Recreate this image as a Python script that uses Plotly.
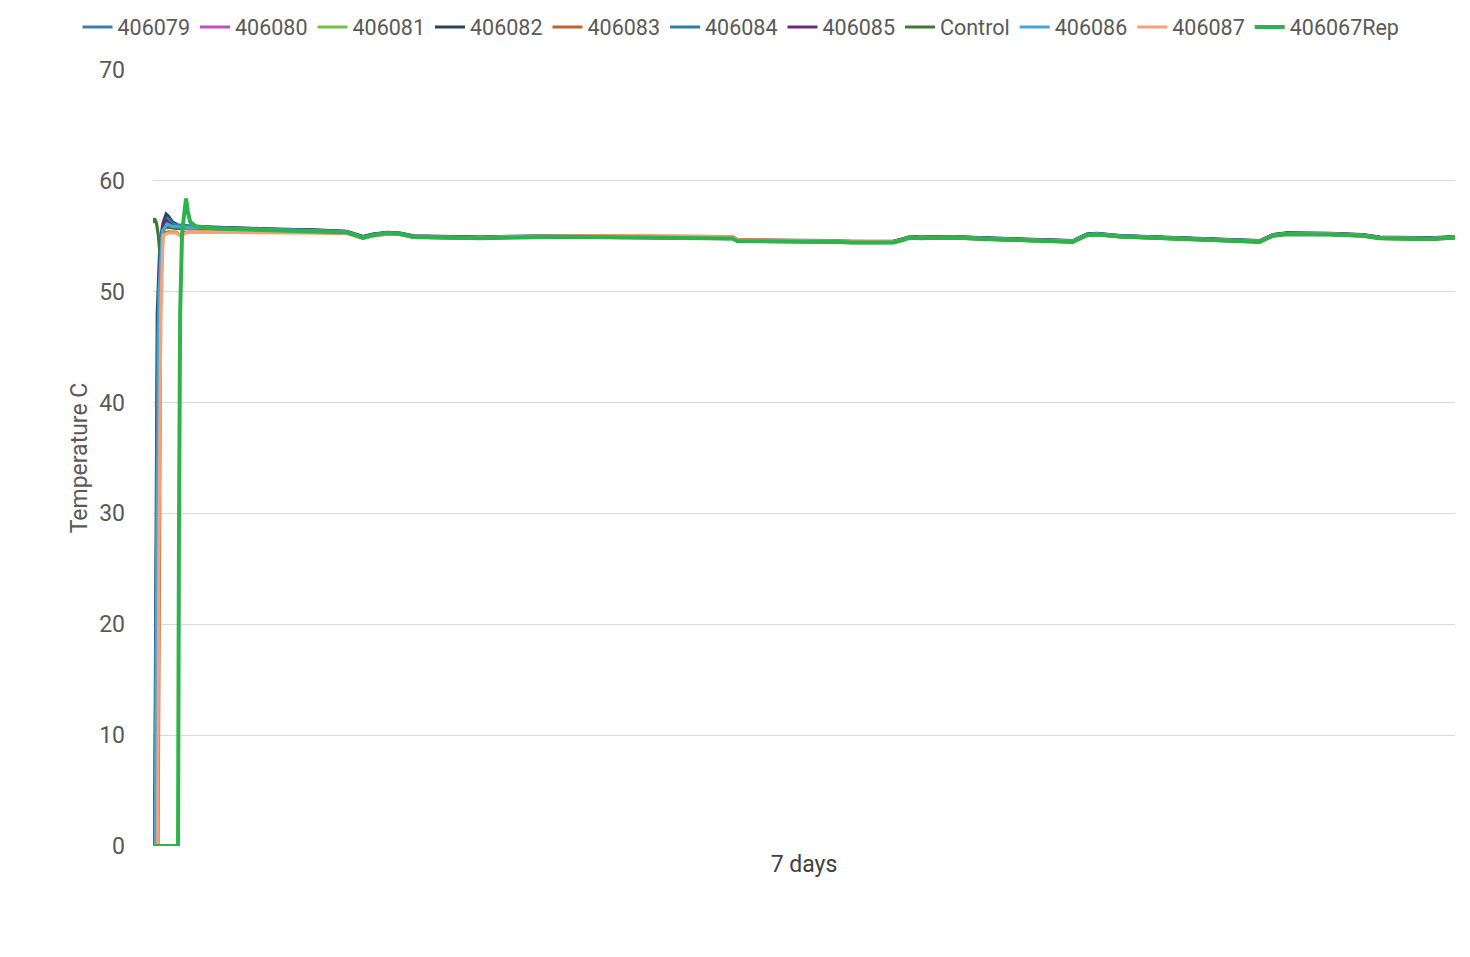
import plotly.graph_objects as go

# ---- data (hours from start, temperature in C) ----
PLATEAU_HOURS = [7.7, 12.1, 16.4, 20.7, 25.0, 27.1, 28.4, 30.2, 31.9, 33.6, 37.9, 42.2, 46.1, 53.4,
                 61.9, 70.6, 74.8, 75.4, 79.2, 83.5, 87.4, 90.3, 95.5, 96.4, 97.7, 99.0, 103.2, 107.6,
                 111.9, 116.1, 118.7, 120.5, 121.8, 124.8, 128.7, 130.3, 134.7, 139.0, 142.8, 144.5,
                 146.3, 151.9, 156.1, 158.3, 164.8, 168.0]

SERIES_NAMES = ["406079", "406080", "406081", "406082", "406083", "406084", "406085",
                "Control", "406086", "406087", "406067Rep"]

s406079_start_h = [0.26, 0.4, 0.6, 0.9, 1.3, 1.8, 2.2, 2.8, 3.5, 4.8]
s406079_start_v = [0, 20, 45, 53.5, 55.8, 56.7, 56.3, 56.0, 55.9, 55.85]
s406079_plateau = [55.80, 55.70, 55.60, 55.55, 55.42, 54.95, 55.18, 55.33, 55.27, 55.02, 54.95, 54.90,
                   54.97, 55.03, 54.98, 54.90, 54.88, 54.66, 54.65, 54.58, 54.57, 54.52, 54.53, 54.68,
                   54.95, 54.90, 54.96, 54.83, 54.74, 54.68, 54.58, 55.18, 55.25, 55.05, 54.96, 54.90,
                   54.80, 54.72, 54.58, 55.13, 55.28, 55.25, 55.13, 54.90, 54.83, 54.95]

s406080_start_h = [0.3, 0.5, 0.8, 1.2, 1.6, 2.0, 2.6, 3.4, 4.8]
s406080_start_v = [0, 30, 50, 55.2, 56.2, 56.3, 55.9, 55.8, 55.8]
s406080_plateau = [55.74, 55.64, 55.55, 55.50, 55.37, 54.90, 55.12, 55.29, 55.22, 54.97, 54.90, 54.85,
                   54.92, 54.98, 54.93, 54.86, 54.83, 54.62, 54.60, 54.53, 54.53, 54.48, 54.48, 54.63,
                   54.90, 54.85, 54.91, 54.78, 54.69, 54.63, 54.53, 55.12, 55.20, 55.00, 54.91, 54.85,
                   54.75, 54.67, 54.53, 55.08, 55.23, 55.20, 55.08, 54.85, 54.78, 54.90]

s406081_start_h = [0.35, 0.55, 0.85, 1.2, 1.7, 2.3, 3.0, 4.8]
s406081_start_v = [0, 32, 51, 55.3, 56.0, 55.9, 55.8, 55.8]
s406081_plateau = [55.70, 55.60, 55.52, 55.46, 55.33, 54.86, 55.09, 55.25, 55.19, 54.93, 54.87, 54.81,
                   54.89, 54.94, 54.89, 54.81, 54.79, 54.57, 54.56, 54.49, 54.49, 54.44, 54.44, 54.59,
                   54.87, 54.81, 54.87, 54.74, 54.65, 54.59, 54.49, 55.09, 55.16, 54.96, 54.87, 54.81,
                   54.71, 54.63, 54.49, 55.04, 55.19, 55.16, 55.04, 54.81, 54.74, 54.87]

s406082_start_h = [0.2, 0.35, 0.55, 0.9, 1.3, 1.7, 2.0, 2.5, 3.2, 4.8]
s406082_start_v = [0, 25, 48, 54.5, 56.2, 57.0, 56.8, 56.3, 56.0, 55.9]
s406082_plateau = [55.82, 55.72, 55.63, 55.57, 55.45, 54.97, 55.20, 55.36, 55.29, 55.05, 54.98, 54.92,
                   55.00, 55.05, 55.00, 54.92, 54.90, 54.68, 54.67, 54.60, 54.60, 54.55, 54.55, 54.70,
                   54.98, 54.92, 54.98, 54.85, 54.76, 54.70, 54.60, 55.20, 55.27, 55.07, 54.98, 54.92,
                   54.82, 54.74, 54.60, 55.15, 55.30, 55.27, 55.15, 54.92, 54.85, 54.97]

s406083_start_h = [0.65, 0.8, 1.0, 1.3, 2.0, 3.0, 3.5, 4.0, 4.8]
s406083_start_v = [0, 30, 50, 55.3, 55.4, 55.35, 55.1, 55.35, 55.4]
s406083_plateau = [55.40, 55.40, 55.38, 55.36, 55.28, 54.85, 55.05, 55.22, 55.18, 54.95, 54.90, 54.88,
                   54.96, 55.05, 55.05, 55.00, 54.98, 54.70, 54.66, 54.58, 54.56, 54.50, 54.52, 54.66,
                   54.92, 54.88, 54.92, 54.80, 54.72, 54.66, 54.56, 55.14, 55.20, 55.02, 54.92, 54.86,
                   54.78, 54.70, 54.56, 55.10, 55.24, 55.22, 55.10, 54.88, 54.80, 54.92]

s406084_start_h = [0.25, 0.4, 0.6, 0.95, 1.4, 1.9, 2.4, 3.0, 4.8]
s406084_start_v = [0, 22, 46, 54.0, 56.0, 56.6, 56.2, 56.0, 55.9]
s406084_plateau = [55.78, 55.68, 55.58, 55.52, 55.40, 54.92, 55.15, 55.31, 55.25, 55.00, 54.93, 54.88,
                   54.95, 55.01, 54.96, 54.88, 54.86, 54.64, 54.63, 54.56, 54.55, 54.50, 54.51, 54.66,
                   54.93, 54.88, 54.94, 54.81, 54.72, 54.66, 54.56, 55.16, 55.23, 55.03, 54.94, 54.88,
                   54.78, 54.70, 54.56, 55.11, 55.26, 55.23, 55.11, 54.88, 54.81, 54.93]

s406085_start_h = [0.4, 0.6, 0.9, 1.3, 1.6, 2.0, 2.6, 4.8]
s406085_start_v = [0, 35, 52, 55.9, 56.5, 56.2, 55.9, 55.8]
s406085_plateau = [55.75, 55.65, 55.56, 55.50, 55.38, 54.90, 55.13, 55.30, 55.23, 54.97, 54.91, 54.85,
                   54.93, 54.98, 54.93, 54.85, 54.83, 54.61, 54.60, 54.53, 54.53, 54.48, 54.48, 54.63,
                   54.91, 54.85, 54.91, 54.78, 54.69, 54.63, 54.53, 55.13, 55.20, 55.00, 54.91, 54.85,
                   54.75, 54.67, 54.53, 55.08, 55.23, 55.20, 55.08, 54.85, 54.78, 54.91]

control_start_h = [0.0, 0.2, 0.45, 0.7, 0.9, 1.05, 1.3, 1.6, 2.2, 3.0, 4.8]
control_start_v = [56.2, 56.6, 56.2, 55.0, 53.4, 54.5, 55.6, 55.8, 55.8, 55.7, 55.75]
control_plateau = [55.68, 55.58, 55.50, 55.44, 55.32, 54.84, 55.08, 55.25, 55.18, 54.92, 54.86, 54.80,
                   54.88, 54.93, 54.88, 54.80, 54.78, 54.56, 54.55, 54.48, 54.48, 54.43, 54.43, 54.58,
                   54.86, 54.80, 54.86, 54.73, 54.64, 54.58, 54.48, 55.08, 55.15, 54.95, 54.86, 54.80,
                   54.70, 54.62, 54.48, 55.03, 55.18, 55.15, 55.03, 54.80, 54.73, 54.86]

s406086_start_h = [0.3, 0.5, 0.8, 1.2, 1.8, 2.5, 4.8]
s406086_start_v = [0, 28, 50, 55.4, 56.1, 55.9, 55.8]
s406086_plateau = [55.76, 55.66, 55.57, 55.51, 55.39, 54.91, 55.14, 55.30, 55.24, 54.98, 54.92, 54.86,
                   54.94, 54.99, 54.94, 54.86, 54.84, 54.62, 54.61, 54.54, 54.54, 54.49, 54.49, 54.64,
                   54.92, 54.86, 54.92, 54.79, 54.70, 54.64, 54.54, 55.14, 55.21, 55.01, 54.92, 54.86,
                   54.76, 54.68, 54.54, 55.09, 55.24, 55.21, 55.09, 54.86, 54.79, 54.92]

s406087_start_h = [0.6, 0.75, 1.0, 1.3, 2.0, 3.0, 3.6, 4.2, 4.8]
s406087_start_v = [0, 25, 48, 55.1, 55.3, 55.3, 55.0, 55.3, 55.4]
s406087_plateau = [55.38, 55.36, 55.34, 55.32, 55.25, 54.82, 55.02, 55.20, 55.15, 54.93, 54.88, 54.86,
                   54.95, 55.04, 55.04, 54.98, 54.96, 54.68, 54.64, 54.57, 54.55, 54.49, 54.50, 54.64,
                   54.90, 54.86, 54.90, 54.78, 54.70, 54.64, 54.55, 55.12, 55.18, 55.00, 54.90, 54.84,
                   54.76, 54.68, 54.55, 55.08, 55.22, 55.20, 55.08, 54.86, 54.78, 54.90]

rep_start_h = [0.0, 3.23, 3.35, 3.5, 3.75, 4.0, 4.26, 4.5, 4.8, 5.5]
rep_start_v = [0, 0, 28, 48, 55.3, 57.2, 58.4, 57.2, 56.3, 55.9]
rep_plateau = [55.72, 55.62, 55.53, 55.47, 55.35, 54.85, 55.10, 55.27, 55.20, 54.94, 54.88, 54.82,
               54.90, 54.95, 54.90, 54.82, 54.80, 54.58, 54.57, 54.50, 54.50, 54.45, 54.45, 54.60,
               54.88, 54.82, 54.88, 54.75, 54.66, 54.60, 54.50, 55.10, 55.17, 54.97, 54.88, 54.82,
               54.72, 54.64, 54.50, 55.05, 55.20, 55.17, 55.05, 54.82, 54.75, 54.88]

Y_TICKS = [0, 10, 20, 30, 40, 50, 60, 70]

series = [
    ("406079", s406079_start_h, s406079_start_v, s406079_plateau, "#3C7EA8"),
    ("406080", s406080_start_h, s406080_start_v, s406080_plateau, "#C04FC4"),
    ("406081", s406081_start_h, s406081_start_v, s406081_plateau, "#72C04E"),
    ("406082", s406082_start_h, s406082_start_v, s406082_plateau, "#25465E"),
    ("406083", s406083_start_h, s406083_start_v, s406083_plateau, "#C1622B"),
    ("406084", s406084_start_h, s406084_start_v, s406084_plateau, "#2E7F9F"),
    ("406085", s406085_start_h, s406085_start_v, s406085_plateau, "#6B2A72"),
    ("Control", control_start_h, control_start_v, control_plateau, "#3F7A34"),
    ("406086", s406086_start_h, s406086_start_v, s406086_plateau, "#45A6DA"),
    ("406087", s406087_start_h, s406087_start_v, s406087_plateau, "#F5A27A"),
    ("406067Rep", rep_start_h, rep_start_v, rep_plateau, "#2EB24B"),
]

fig = go.Figure()
for name, sh, sv, pv, color in series:
    fig.add_trace(go.Scatter(
        x=list(sh) + PLATEAU_HOURS,
        y=list(sv) + list(pv),
        mode="lines",
        name=name,
        line=dict(color=color, width=4.0 if name == "406067Rep" else 3.2),
    ))

FONT = "Roboto, Arial, sans-serif"
# The page adds an 8px body margin, so the figure is made 8px smaller on left/top.
fig.update_layout(
    width=1462, height=949,
    paper_bgcolor="white", plot_bgcolor="white",
    margin=dict(l=145, r=15, t=62, b=111, autoexpand=False),
    font=dict(family=FONT, color="#595959", size=23),
    showlegend=True,
    legend=dict(
        orientation="h",
        xref="paper", yref="paper",
        x=-0.058, xanchor="left",
        y=1.0554, yanchor="middle",
        font=dict(size=21.5, color="#595959", family=FONT),
        itemwidth=30,
        tracegroupgap=0,
        bgcolor="rgba(0,0,0,0)",
    ),
    xaxis=dict(
        range=[0, 168],
        showticklabels=False,
        showgrid=False,
        zeroline=False,
        showline=False,
        ticks="",
        title=dict(text="7 days", standoff=9, font=dict(size=23, color="#404040")),
    ),
    yaxis=dict(
        range=[0, 70],
        tickvals=Y_TICKS,
        showgrid=True,
        gridcolor="#D9D9D9",
        gridwidth=1,
        zeroline=False,
        showline=False,
        ticks="",
        ticklabelstandoff=27,
        tickfont=dict(size=23, color="#595959"),
        title=dict(text="Temperature C", standoff=5, font=dict(size=23, color="#595959")),
    ),
)

fig.write_html("out.html")
